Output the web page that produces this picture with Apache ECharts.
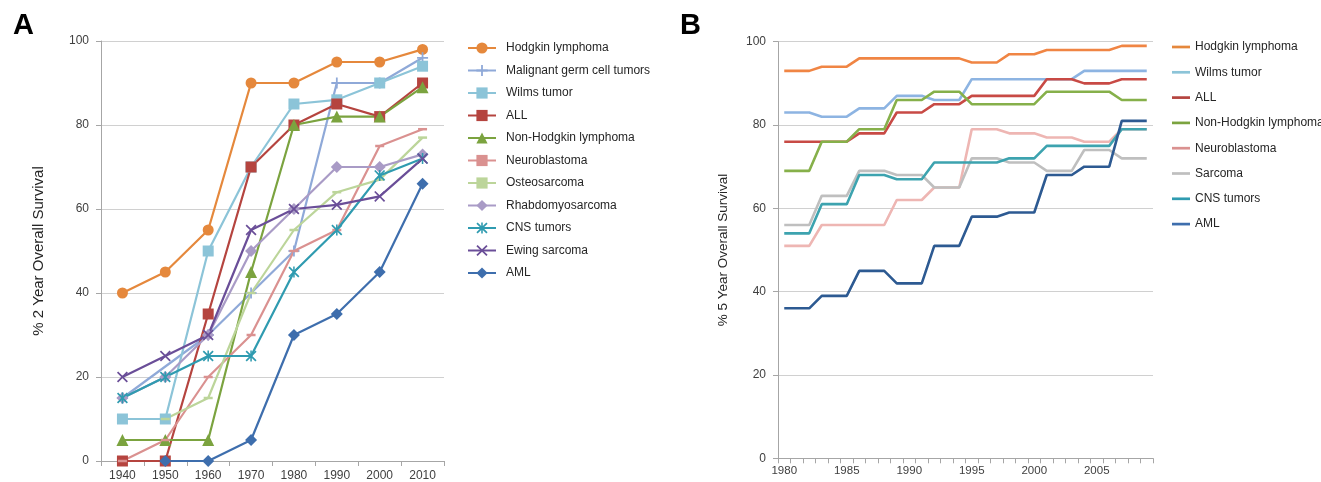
<!DOCTYPE html>
<html>
<head>
<meta charset="utf-8">
<script src="https://cdn.jsdelivr.net/npm/echarts@6/dist/echarts.min.js"></script>
<style>
  html, body { margin: 0; padding: 0; background: #fff; }
  #chart { width: 1321px; height: 482px; }
</style>
</head>
<body>
<div id="chart"></div>
<script>
// --- Panel A: 2 year survival by decade ---
const decadesA = ['1940', '1950', '1960', '1970', '1980', '1990', '2000', '2010'];
const hodgkinA = [40, 45, 55, 90, 90, 95, 95, 98];
const germCellA = [15, null, 30, 40, 50, 90, 90, 96];
const wilmsA = [10, 10, 50, 70, 85, 86, 90, 94];
const allA = [0, 0, 35, 70, 80, 85, 82, 90];
const nhlA = [5, 5, 5, 45, 80, 82, 82, 89];
const neuroA = [0, 5, 20, 30, 50, 55, 75, 79];
const osteoA = [null, 10, 15, 40, 55, 64, 67, 77];
const rhabdoA = [15, 20, 30, 50, 60, 70, 70, 73];
const cnsA = [15, 20, 25, 25, 45, 55, 68, 72];
const ewingA = [20, 25, 30, 55, 60, 61, 63, 72];
const amlA = [null, 0, 0, 5, 30, 35, 45, 66];

// --- Panel B: 5 year survival by year ---
const yearsB = ['1980', '1981', '1982', '1983', '1984', '1985', '1986', '1987', '1988', '1989',
  '1990', '1991', '1992', '1993', '1994', '1995', '1996', '1997', '1998', '1999',
  '2000', '2001', '2002', '2003', '2004', '2005', '2006', '2007', '2008', '2009'];
const hodgkinB = [93, 93, 93, 94, 94, 94, 96, 96, 96, 96, 96, 96, 96, 96, 96, 95, 95, 95, 97, 97, 97, 98, 98, 98, 98, 98, 98, 99, 99, 99];
const wilmsB = [83, 83, 83, 82, 82, 82, 84, 84, 84, 87, 87, 87, 86, 86, 86, 91, 91, 91, 91, 91, 91, 91, 91, 91, 93, 93, 93, 93, 93, 93];
const allB = [76, 76, 76, 76, 76, 76, 78, 78, 78, 83, 83, 83, 85, 85, 85, 87, 87, 87, 87, 87, 87, 91, 91, 91, 90, 90, 90, 91, 91, 91];
const nhlB = [69, 69, 69, 76, 76, 76, 79, 79, 79, 86, 86, 86, 88, 88, 88, 85, 85, 85, 85, 85, 85, 88, 88, 88, 88, 88, 88, 86, 86, 86];
const neuroB = [51, 51, 51, 56, 56, 56, 56, 56, 56, 62, 62, 62, 65, 65, 65, 79, 79, 79, 78, 78, 78, 77, 77, 77, 76, 76, 76, 79, 79, 79];
const sarcomaB = [56, 56, 56, 63, 63, 63, 69, 69, 69, 68, 68, 68, 65, 65, 65, 72, 72, 72, 71, 71, 71, 69, 69, 69, 74, 74, 74, 72, 72, 72];
const cnsB = [54, 54, 54, 61, 61, 61, 68, 68, 68, 67, 67, 67, 71, 71, 71, 71, 71, 71, 72, 72, 72, 75, 75, 75, 75, 75, 75, 79, 79, 79];
const amlB = [36, 36, 36, 39, 39, 39, 45, 45, 45, 42, 42, 42, 51, 51, 51, 58, 58, 58, 59, 59, 59, 68, 68, 68, 70, 70, 70, 81, 81, 81];

const FONT = 'Liberation Sans, Arial, sans-serif';

// marker shapes like the excel ones
const PLUS = 'path://M4.2,0H5.8V4.2H10V5.8H5.8V10H4.2V5.8H0V4.2H4.2Z';
const CROSS = 'path://M0,1.1L1.1,0L5,3.9L8.9,0L10,1.1L6.1,5L10,8.9L8.9,10L5,6.1L1.1,10L0,8.9L3.9,5Z';
const STAR = 'path://M0,1.1L1.1,0L4.3,3.2V0H5.7V3.2L8.9,0L10,1.1L6.1,5L10,8.9L8.9,10L5.7,6.8V10H4.3V6.8L1.1,10L0,8.9L3.9,5Z';
const DASH = 'rect';
const LINE_ICON = 'path://M0,0H20V3H0Z';

function seriesA(name, data, color, symbol, size) {
  return {
    name, type: 'line', data,
    xAxisIndex: 0, yAxisIndex: 0,
    symbol, symbolSize: size, showAllSymbol: true,
    connectNulls: true,
    lineStyle: { color, width: 2.2 },
    itemStyle: { color },
    emphasis: { disabled: true },
    animation: false
  };
}

function seriesB(name, data, color) {
  return {
    name, type: 'line', data,
    xAxisIndex: 1, yAxisIndex: 1,
    symbol: 'none', showSymbol: false,
    lineStyle: { color, width: 2.6 },
    itemStyle: { color },
    emphasis: { disabled: true },
    animation: false
  };
}

const namesA = ['Hodgkin lymphoma', 'Malignant germ cell tumors', 'Wilms tumor', 'ALL',
  'Non-Hodgkin lymphoma', 'Neuroblastoma', 'Osteosarcoma', 'Rhabdomyosarcoma',
  'CNS tumors', 'Ewing sarcoma', 'AML'];
const namesB = ['Hodgkin lymphoma', 'Wilms tumor', 'ALL', 'Non-Hodgkin lymphoma',
  'Neuroblastoma', 'Sarcoma', 'CNS tumors', 'AML'];

const axisLabelStyle = { color: '#404040', fontFamily: FONT };

const option = {
  animation: false,
  backgroundColor: '#fff',
  title: [
    { text: 'A', left: 8, top: 6, textStyle: { fontFamily: FONT, fontWeight: 'bold', fontSize: 29, color: '#000' } },
    { text: 'B', left: 675, top: 6, textStyle: { fontFamily: FONT, fontWeight: 'bold', fontSize: 29, color: '#000' } }
  ],
  grid: [
    { left: 101, top: 41, width: 343, height: 420 },
    { left: 778, top: 41.7, width: 375, height: 416.6 }
  ],
  legend: [
    {
      data: namesA,
      orient: 'vertical', left: 467, top: 42, padding: 0,
      itemWidth: 28, itemHeight: 14, itemGap: 10.5,
      textStyle: { fontFamily: FONT, fontSize: 12, color: '#262626', padding: [0, 0, 0, 5] },
      selectedMode: false
    },
    {
      data: namesB.map(n => ({ name: n, icon: LINE_ICON })),
      orient: 'vertical', left: 1172, top: 41, padding: 0,
      itemWidth: 18, itemHeight: 3, itemGap: 13.3,
      textStyle: { fontFamily: FONT, fontSize: 12, color: '#262626' },
      selectedMode: false
    }
  ],
  xAxis: [
    {
      gridIndex: 0, type: 'category', data: decadesA, boundaryGap: true,
      axisLine: { lineStyle: { color: '#a6a6a6', width: 1 } },
      axisTick: { show: true, length: 5, lineStyle: { color: '#a6a6a6' } },
      axisLabel: { ...axisLabelStyle, fontSize: 12, margin: 9 }
    },
    {
      gridIndex: 1, type: 'category', data: yearsB, boundaryGap: true,
      axisLine: { lineStyle: { color: '#a6a6a6', width: 1 } },
      axisTick: { show: true, length: 5, interval: 0, lineStyle: { color: '#a6a6a6' } },
      axisLabel: { ...axisLabelStyle, fontSize: 11.5, margin: 7, interval: 4 }
    }
  ],
  yAxis: [
    {
      gridIndex: 0, type: 'value', min: 0, max: 100, interval: 20,
      name: '% 2 Year Overall Survival', nameLocation: 'middle', nameGap: 55, nameRotate: 90,
      nameTextStyle: { fontFamily: FONT, fontSize: 15, color: '#262626' },
      axisLine: { show: true, lineStyle: { color: '#a6a6a6' } },
      axisTick: { show: true, length: 5, lineStyle: { color: '#a6a6a6' } },
      axisLabel: { ...axisLabelStyle, fontSize: 12, margin: 12 },
      splitLine: { lineStyle: { color: '#d0d0d0', width: 1 } }
    },
    {
      gridIndex: 1, type: 'value', min: 0, max: 100, interval: 20,
      name: '% 5 Year Overall Survival', nameLocation: 'middle', nameGap: 48, nameRotate: 90,
      nameTextStyle: { fontFamily: FONT, fontSize: 13.5, color: '#262626' },
      axisLine: { show: true, lineStyle: { color: '#a6a6a6' } },
      axisTick: { show: true, length: 5, lineStyle: { color: '#a6a6a6' } },
      axisLabel: { ...axisLabelStyle, fontSize: 12, margin: 12 },
      splitLine: { lineStyle: { color: '#d0d0d0', width: 1 } }
    }
  ],
  series: [
    seriesA('Hodgkin lymphoma', hodgkinA, '#E5883C', 'circle', 11),
    seriesA('Malignant germ cell tumors', germCellA, '#8FA9D8', PLUS, 11),
    seriesA('Wilms tumor', wilmsA, '#8CC4D8', 'rect', 11),
    seriesA('ALL', allA, '#B5443F', 'rect', 11),
    seriesA('Non-Hodgkin lymphoma', nhlA, '#7BA33F', 'triangle', 12),
    seriesA('Neuroblastoma', neuroA, '#DA9190', DASH, [9, 2.5]),
    seriesA('Osteosarcoma', osteoA, '#BCD59A', DASH, [9, 2.5]),
    seriesA('Rhabdomyosarcoma', rhabdoA, '#A99BC6', 'diamond', 12),
    seriesA('CNS tumors', cnsA, '#2F9BB0', STAR, 11),
    seriesA('Ewing sarcoma', ewingA, '#6A4E98', CROSS, 11),
    seriesA('AML', amlA, '#3E6EAD', 'diamond', 12),

    seriesB('Hodgkin lymphoma', hodgkinB, '#F08544'),
    seriesB('Wilms tumor', wilmsB, '#8DB4E2'),
    seriesB('ALL', allB, '#C84A45'),
    seriesB('Non-Hodgkin lymphoma', nhlB, '#86B04A'),
    seriesB('Neuroblastoma', neuroB, '#EEB6B3'),
    seriesB('Sarcoma', sarcomaB, '#BFBFBF'),
    seriesB('CNS tumors', cnsB, '#3DA3AF'),
    seriesB('AML', amlB, '#2D5A92')
  ]
};

const chart = echarts.init(document.getElementById('chart'), null, { renderer: 'canvas' });
chart.setOption(option);
</script>
</body>
</html>
